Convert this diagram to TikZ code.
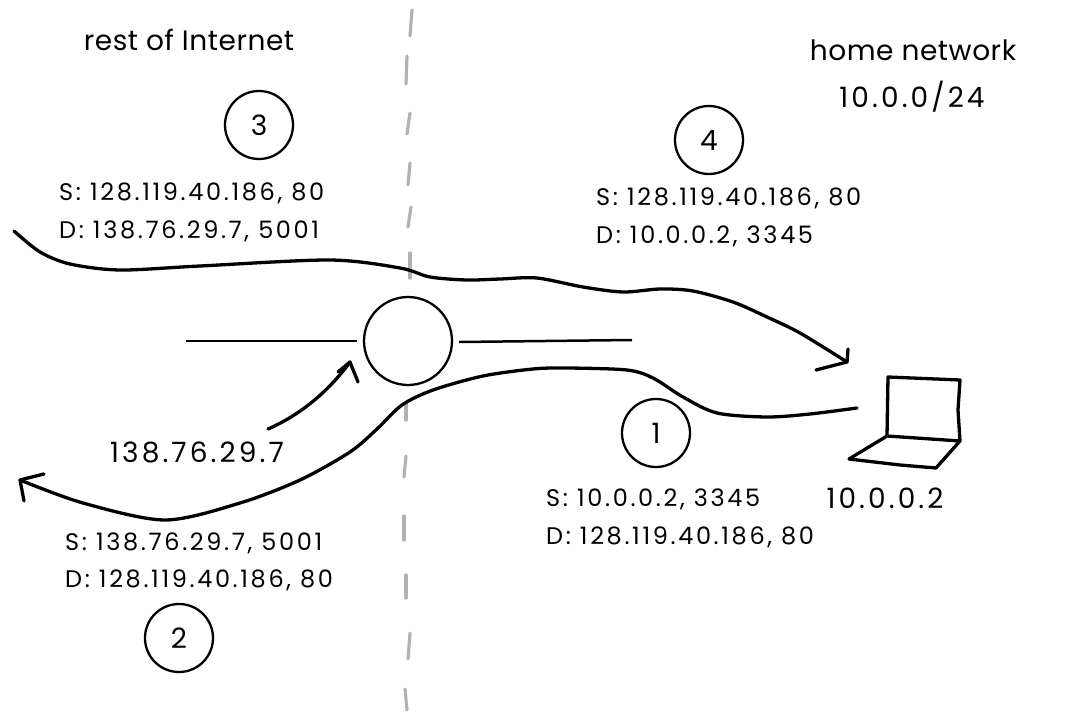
\documentclass[tikz,border=0pt]{standalone}
\usepackage{fontspec}
\setmainfont{Poppins}
\newfontfamily\addrfont[LetterSpace=11]{Poppins}
\newfontfamily\wordfont[LetterSpace=2]{Poppins}
\newfontfamily\numfont[LetterSpace=11]{Poppins}
\begin{document}
\begin{tikzpicture}[x=1pt,y=-1pt,
  lab/.style={inner sep=0pt,anchor=center,text=black},
  addr/.style={lab,font=\addrfont\fontsize{24}{28}\selectfont},
  big/.style={lab,font=\wordfont\fontsize{28}{32}\selectfont},
  bignum/.style={lab,font=\numfont\fontsize{28}{32}\selectfont},
  num/.style={circle,draw=black,line width=2.3pt,minimum size=68pt,inner sep=0pt,font=\fontsize{28}{32}\selectfont},
  router/.style={circle,draw=black,line width=2.3pt,minimum size=88pt,inner sep=0pt},
  thin wire/.style={draw=black,line width=2.5pt},
  wire/.style={draw=black,line width=3.3pt,line cap=round,line join=round},
  divide/.style={draw=black!30,line width=3.2pt,line cap=round}]
\useasboundingbox (0,0) rectangle (1080,720);
\fill[white] (0,0) rectangle (1080,720);
% divider
\foreach \a/\b/\c/\d in {412/10/410/36,407/56/406/84,410/113/407/134,410/163/408/185,411/207/408/227,410/253/410/278,406/403/406/420,406/456/404/477,404/516/404/540,406/575/406/598,410/633/408/659,405/689/407/710}
  \draw[divide] (\a,\b) -- (\c,\d);
% labels
\node[big] (rest) at (189,40) {rest of Internet};
\node[big] (home) at (913,50) {home network};
\node[bignum] (net) at (912,97) {10.0.0/24};
\node[num] (n3) at (259,125) {3};
\node[num] (n4) at (709,140) {4};
\node[num] (n1) at (656,433) {1};
\node[num] (n2) at (179,638) {2};
\node[router] (r) at (408,341) {};
\node[addr,anchor=west] (s3) at (59,193) {S: 128.119.40.186, 80};
\node[addr,anchor=west] (d3) at (59,231) {D: 138.76.29.7, 5001};
\node[addr,anchor=west] (s4) at (596,198) {S: 128.119.40.186, 80};
\node[addr,anchor=west] (d4) at (596,236) {D: 10.0.0.2, 3345};
\node[addr,anchor=west] (s2) at (65,543) {S: 138.76.29.7, 5001};
\node[addr,anchor=west] (d2) at (65,580) {D: 128.119.40.186, 80};
\node[addr,anchor=west] (s1) at (546,499) {S: 10.0.0.2, 3345};
\node[addr,anchor=west] (d1) at (546,537) {D: 128.119.40.186, 80};
\node[bignum] (rip) at (197,452) {138.76.29.7};
\node[bignum] (hip) at (885,498) {10.0.0.2};
% router links
\coordinate (ll) at (186,341);
\coordinate (lr) at (632,340);
\draw[thin wire] (ll) -- ([xshift=-6pt]r.west);
\draw[thin wire] ([xshift=6pt,yshift=-1pt]r.east) -- (lr);
% laptop
\coordinate (sa) at (888,377);
\coordinate (sb) at (960,380);
\coordinate (sc) at (960,441);
\coordinate (sd) at (887,436);
\coordinate (ba) at (849,459);
\coordinate (bb) at (936,468);
\draw[wire] (sd) -- (sa) -- (sb) -- (958,410) -- (sc) -- (sd) -- (ba) -- (900,465) -- (bb) -- (sc);
% top flow
\coordinate (t0) at (14,231);
\coordinate (t1) at (847,362);
\draw[wire] plot[smooth,tension=0.5] coordinates {(t0) (40,252) (70,264) (120,270) (200,266) (330,260) (400,268) (430,277) (467,280) (500,279) (537,278) (583,287) (623,292) (660,289) (693,291) (733,302) (767,317) (800,333) (t1)};
\draw[wire] (816,370) -- (t1) -- (848,349);
% bottom flow
\coordinate (b0) at (857,408);
\coordinate (b1) at (20,480);
\draw[wire] plot[smooth,tension=0.5] coordinates {(b0) (810,414) (767,417) (717,413) (683,397) (653,378) (627,370) (567,368) (533,369) (483,376) (433,390) (402,405) (377,429) (350,452) (300,480) (240,503) (165,520) (83,503) (b1)};
\draw[wire] (44,474) -- (b1) -- (24,501);
% address arrow
\coordinate (a0) at (268,429);
\coordinate (a1) at (350,362);
\draw[wire] (a0) .. controls (300,415) and (328,392) .. (a1);
\draw[wire] (338,372) -- (a1) -- (358,382);
\end{tikzpicture}
\end{document}
